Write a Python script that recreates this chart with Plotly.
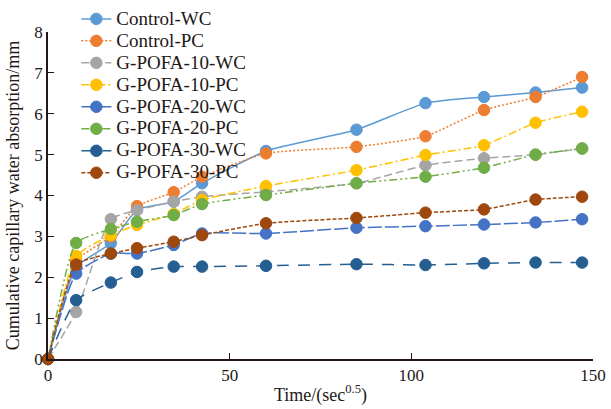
import plotly.graph_objects as go

time_sqrt = [0, 7.75, 17.3, 24.5, 34.6, 42.4, 60, 84.9, 103.9, 120, 134.2, 147]

series_names = ["Control-WC", "Control-PC", "G-POFA-10-WC", "G-POFA-10-PC",
                "G-POFA-20-WC", "G-POFA-20-PC", "G-POFA-30-WC", "G-POFA-30-PC"]

control_wc = [0, 2.25, 2.83, 3.65, 3.85, 4.30, 5.09, 5.61, 6.26, 6.41, 6.52, 6.64]
control_pc = [0, 2.40, 3.00, 3.74, 4.08, 4.46, 5.03, 5.19, 5.45, 6.09, 6.41, 6.90]
gpofa10_wc = [0, 1.15, 3.42, 3.64, 3.85, 3.97, 4.09, 4.30, 4.74, 4.91, 5.00, 5.15]
gpofa10_pc = [0, 2.52, 3.03, 3.28, 3.55, 3.89, 4.23, 4.62, 4.99, 5.23, 5.78, 6.05]
gpofa20_wc = [0, 2.09, 2.58, 2.58, 2.79, 3.07, 3.07, 3.21, 3.25, 3.29, 3.34, 3.42]
gpofa20_pc = [0, 2.84, 3.18, 3.36, 3.52, 3.79, 4.01, 4.30, 4.46, 4.68, 5.00, 5.15]
gpofa30_wc = [0, 1.44, 1.87, 2.13, 2.26, 2.26, 2.28, 2.32, 2.30, 2.34, 2.36, 2.36]
gpofa30_pc = [0, 2.31, 2.58, 2.71, 2.87, 3.03, 3.32, 3.45, 3.58, 3.66, 3.90, 3.97]

x_tick_vals = [0, 50, 100, 150]
x_tick_text = ["0", "50", "100", "150"]

values = [control_wc, control_pc, gpofa10_wc, gpofa10_pc,
          gpofa20_wc, gpofa20_pc, gpofa30_wc, gpofa30_pc]
colors = ["#5B9BD5", "#ED7D31", "#A5A5A5", "#FFC000",
          "#4472C4", "#70AD47", "#255E91", "#9E480E"]
dashes = ["solid", "2px,2px", "8px,4px", "8px,3px,2px,3px",
          "14px,3px", "8px,3px,2px,3px,2px,3px", "12px,9px", "4px,2px"]

FONT = "Liberation Serif"
INK = "#231815"

fig = go.Figure()
for name, ys, c, d in zip(series_names, values, colors, dashes):
    fig.add_trace(go.Scatter(
        x=time_sqrt, y=ys,
        name='<span style="font-size:19px">' + name + '</span>',
        mode="lines+markers",
        line=dict(color=c, width=1.5, dash=d, shape="spline", smoothing=0.5),
        marker=dict(symbol="circle", size=11.5, color=c,
                    line=dict(color=c, width=1)),
        cliponaxis=False,
    ))

axis_common = dict(
    showline=True, linecolor=INK, linewidth=1.5,
    ticks="inside", ticklen=6, tickwidth=1.2, tickcolor=INK,
    showgrid=False, zeroline=False, mirror=False, automargin=False,
    ticklabeloverflow="allow",
    tickfont=dict(family=FONT, size=17, color=INK),
)

fig.update_layout(
    width=611, height=409,
    margin=dict(l=48, r=18, t=32, b=50, autoexpand=False),
    paper_bgcolor="white", plot_bgcolor="white",
    font=dict(family=FONT, color=INK),
    xaxis=dict(range=[0, 150], tickvals=x_tick_vals, ticktext=x_tick_text,
               title=dict(text="Time/(sec<sup>0.5</sup>)",
                          font=dict(family=FONT, size=18, color=INK), standoff=4),
               **axis_common),
    yaxis=dict(range=[0, 8], dtick=1,
               title=dict(text="Cumulative capillary water absorption/mm",
                          font=dict(family=FONT, size=18, color=INK), standoff=10),
               **axis_common),
    legend=dict(x=0.052, y=1.089, xanchor="left", yanchor="top",
                bgcolor="rgba(0,0,0,0)", borderwidth=0,
                font=dict(family=FONT, size=14.6, color=INK),
                tracegroupgap=0, itemwidth=30),
    showlegend=True,
)

fig.write_html("out.html",
               config={"displayModeBar": False},
               post_script="document.body.style.margin='0';document.body.style.overflow='hidden';")
